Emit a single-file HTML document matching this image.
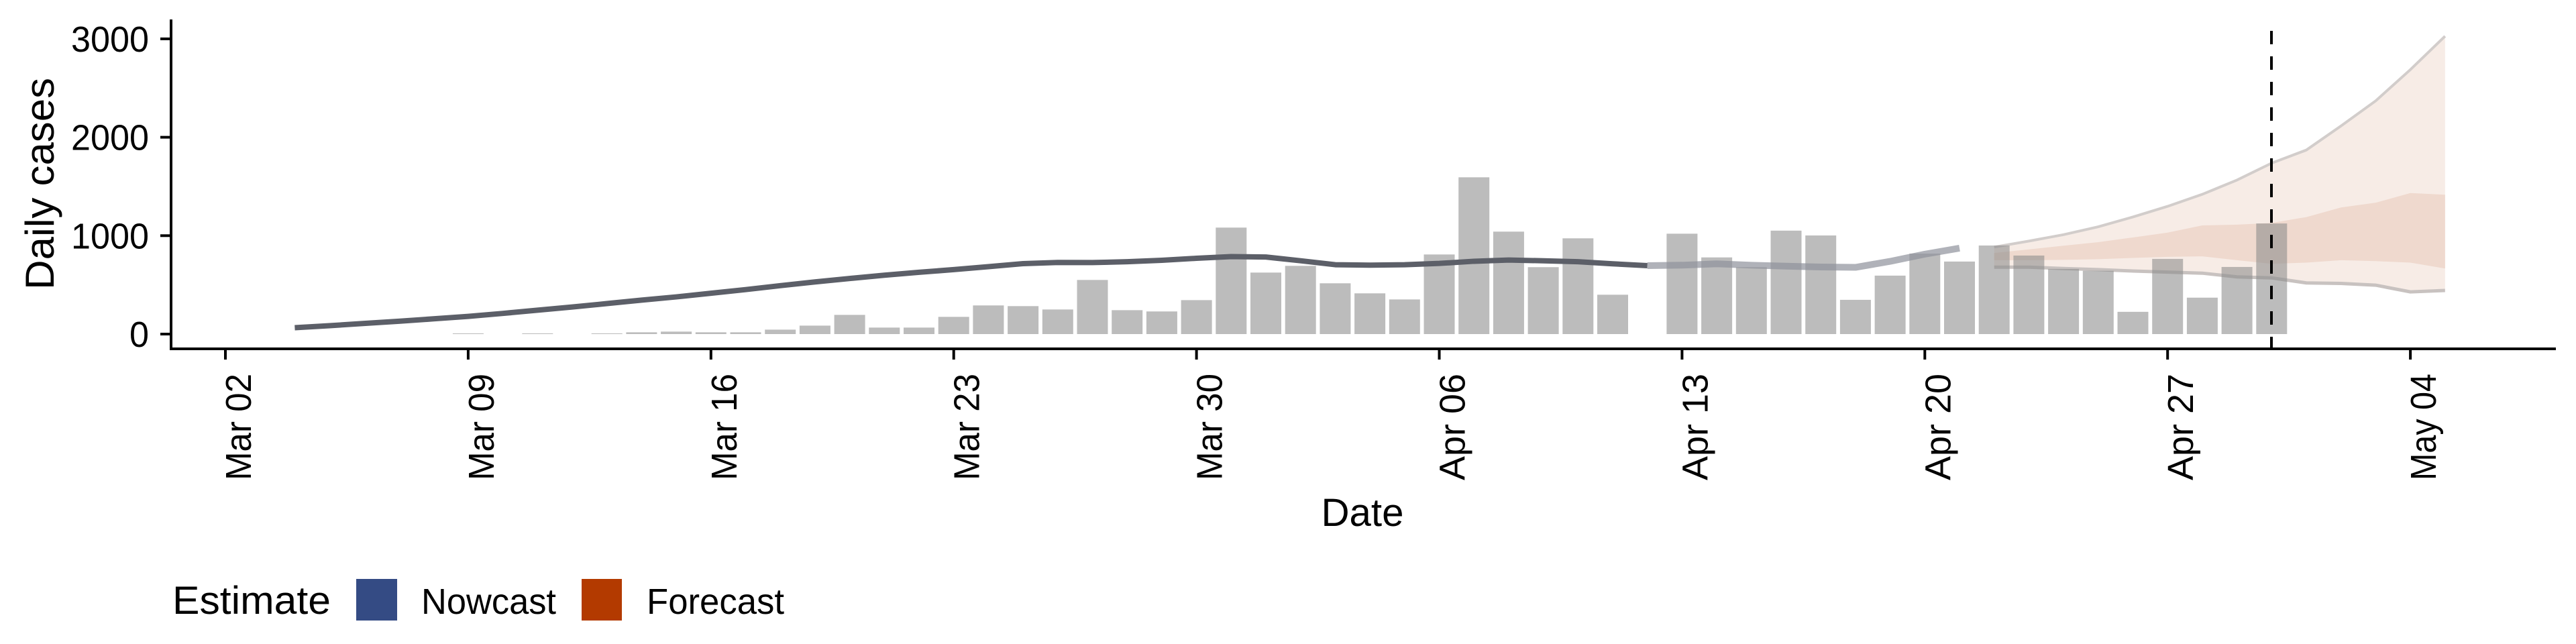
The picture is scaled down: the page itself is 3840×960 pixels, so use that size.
<!DOCTYPE html>
<html><head><meta charset="utf-8"><style>
html,body{margin:0;padding:0;background:#fff;}
svg{display:block;font-family:"Liberation Sans",sans-serif;}
</style></head><body>
<svg id="chart" width="3840" height="960" viewBox="0 0 3840 960" xmlns="http://www.w3.org/2000/svg">
<g id="bands"></g>
<g id="bars"></g>
<g id="lines"></g>
<line x1="3386" y1="46" x2="3386" y2="520" stroke="#000" stroke-width="4" stroke-dasharray="20,18"/>
<g id="axes"></g>
<text x="2031" y="784" font-size="58" text-anchor="middle" textLength="123" lengthAdjust="spacingAndGlyphs">Date</text>
<text transform="translate(80,274) rotate(-90)" font-size="60" text-anchor="middle" textLength="316" lengthAdjust="spacingAndGlyphs">Daily cases</text>
<g>
<text x="257" y="915" font-size="58" textLength="236" lengthAdjust="spacingAndGlyphs">Estimate</text>
<rect x="531" y="863" width="61" height="62" fill="#344b84"/>
<text x="628" y="915" font-size="54" textLength="201" lengthAdjust="spacingAndGlyphs">Nowcast</text>
<rect x="867" y="863" width="60" height="62" fill="#b33a00"/>
<text x="964" y="915" font-size="54" textLength="205" lengthAdjust="spacingAndGlyphs">Forecast</text>
</g>
</svg>
<script>
// day index 0 = Mar 02
const barDays = [7,9,11,12,13,14,15,16,17,18,19,20,21,22,23,24,25,26,27,28,29,30,31,32,33,34,35,36,37,38,39,40,42,43,44,45,46,47,48,49,50,51,52,53,54,55,56,57,58,59];
const barValues = [7,7,7,18,25,18,18,45,86,195,66,66,175,291,284,250,550,243,230,345,1082,625,693,516,414,352,809,1593,1041,680,973,400,1020,779,680,1051,1002,348,594,818,737,900,798,662,643,226,764,370,682,1124];
const nowDays = [2,3,4,5,6,7,8,9,10,11,12,13,14,15,16,17,18,19,20,21,22,23,24,25,26,27,28,29,30,31,32,33,34,35,36,37,38,39,40,41,42,43,44,45,46,47,48,49,50];
const nowMedian = [65,85,108,130,155,180,210,243,275,310,345,378,415,452,492,530,565,598,628,655,685,716,728,727,735,750,770,787,783,745,705,700,705,718,740,752,745,735,714,695,700,714,700,690,682,678,739,812,873];
const fcDays = [51,52,53,54,55,56,57,58,59,60,61,62,63,64];
const fcOuterUpper = [884,945,1010,1090,1190,1298,1420,1565,1737,1870,2115,2370,2687,3027];
const fcOuterLower = [680,680,666,655,641,630,619,581,571,520,515,497,429,443];
const fcInnerUpper = [824,861,898,934,982,1031,1104,1112,1129,1189,1287,1335,1433,1416];
const fcInnerLower = [751,751,754,761,774,785,790,751,714,726,751,741,726,666];
const yTicks = [0,1000,2000,3000];
const xTickDays = [0,7,14,21,28,35,42,49,56,63];
const xTickLabels = ["Mar 02","Mar 09","Mar 16","Mar 23","Mar 30","Apr 06","Apr 13","Apr 20","Apr 27","May 04"];

const NS="http://www.w3.org/2000/svg";
const X = d => 336 + d*51.7;
const Y = v => 498 - v*0.1467;
function mk(tag, attrs, parent){const e=document.createElementNS(NS,tag);for(const k in attrs)e.setAttribute(k,attrs[k]);parent.appendChild(e);return e;}

const gB=document.getElementById('bands');
function area(days, up, lo){let d='M'+days.map((t,i)=>X(t)+','+Y(up[i])).join('L');for(let i=days.length-1;i>=0;i--)d+='L'+X(days[i])+','+Y(lo[i]);return d+'Z';}
const o=mk('path',{d:area(fcDays,fcOuterUpper,fcOuterLower),fill:'#f7ece6'},gB);


const inn=mk('path',{d:area(fcDays,fcInnerUpper,fcInnerLower),fill:'#efd9ce'},gB);


const eu=mk('path',{d:'M'+fcDays.map((t,i)=>X(t)+','+Y(fcOuterUpper[i])).join('L'),fill:'none',stroke:'#d2cdcb','stroke-width':4},gB);


const el=mk('path',{d:'M'+fcDays.map((t,i)=>X(t)+','+Y(fcOuterLower[i])).join('L'),fill:'none',stroke:'#c8c2c0','stroke-width':5},gB);



const gR=document.getElementById('bars');
barDays.forEach((d,i)=>{
  const v=barValues[i];
  const r=mk('rect',{x:X(d)-23,y:Y(v),width:46,height:Math.max(0,Y(0)-Y(v)),fill:'#8a8a8a','fill-opacity':0.57},gR);
  
  
});

const gL=document.getElementById('lines');
const split=nowDays.indexOf(41);
const p1=nowDays.slice(0,split+1).map((t,i)=>X(t)+','+Y(nowMedian[i])).join('L');
const p2=nowDays.slice(split).map((t,i)=>X(t)+','+Y(nowMedian[i+split])).join('L');
const l1=mk('path',{d:'M'+p1,fill:'none',stroke:'#5c5f68','stroke-width':8,'stroke-linejoin':'round'},gL);


const l2=mk('path',{d:'M'+p2,fill:'none',stroke:'#8f929b','stroke-width':10,'stroke-opacity':0.7,'stroke-linejoin':'round'},gL);



const gA=document.getElementById('axes');
const ya=mk('line',{x1:255,y1:29,x2:255,y2:522,stroke:'#000','stroke-width':4},gA);


const xa=mk('line',{x1:253,y1:520,x2:3810,y2:520,stroke:'#000','stroke-width':4},gA);


yTicks.forEach(v=>{
  const t=mk('line',{x1:239,y1:Y(v),x2:255,y2:Y(v),stroke:'#000','stroke-width':4},gA);
  
  
  const s=String(v);
  const tx=mk('text',{x:222,y:Y(v)+19,'font-size':54,'text-anchor':'end',textLength:29*s.length,lengthAdjust:'spacingAndGlyphs'},gA);
  tx.textContent=s;
  
  
});
xTickDays.forEach((d,i)=>{
  const t=mk('line',{x1:X(d),y1:520,x2:X(d),y2:536,stroke:'#000','stroke-width':4},gA);
  
  
  const tx=mk('text',{transform:'translate('+(X(d)+38)+',557) rotate(-90)','font-size':54,'text-anchor':'end',textLength:159,lengthAdjust:'spacingAndGlyphs'},gA);
  tx.textContent=xTickLabels[i];
  
  
});
</script>
</body></html>
